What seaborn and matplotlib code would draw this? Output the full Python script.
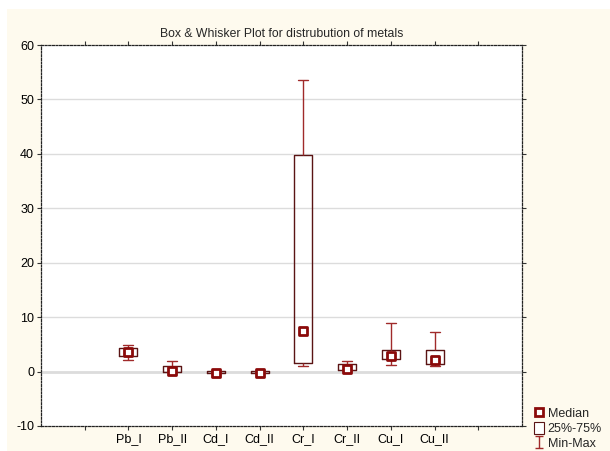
import numpy as np
import pandas as pd
import matplotlib
matplotlib.use("Agg")
import matplotlib.pyplot as plt
from matplotlib.lines import Line2D
from matplotlib.patches import Patch, Rectangle
from matplotlib.path import Path
import seaborn as sns

categories = ["Pb_I", "Pb_II", "Cd_I", "Cd_II", "Cr_I", "Cr_II", "Cu_I", "Cu_II"]
mins    = [2.15, 0.0,  -0.3,  -0.3,  0.98, 0.3,  1.23, 1.1]
q1s     = [2.82, 0.0,  -0.05, -0.05, 1.54, 0.37, 2.33, 1.41]
medians = [3.6,  0.18, -0.25, -0.25, 7.4,  0.55, 2.89, 2.08]
q3s     = [4.36, 1.04, 0.05,  0.05,  39.7, 1.41, 4.05, 4.05]
maxs    = [4.97, 1.97, 0.1,   0.1,   53.6, 1.9,  8.96, 7.24]
title = "Box & Whisker Plot for distrubution of metals"
yticks = [-10, 0, 10, 20, 30, 40, 50, 60]
legend_labels = ["Median", "25%-75%", "Min-Max"]

# Five-number summaries -> long table (percentiles of 5 points reproduce them exactly)
rows = []
for c, a, b, m, d, e in zip(categories, mins, q1s, medians, q3s, maxs):
    for v in (a, b, m, d, e):
        rows.append({"metal": c, "value": v})
df = pd.DataFrame(rows)
med_df = pd.DataFrame({"metal": categories, "median": medians})

sns.set_theme(style="white")
plt.rcParams["font.family"] = ["Liberation Sans", "DejaVu Sans"]

box_col = "#5a1414"
whisk_col = "#a02a2a"
med_col = "#8b0a0a"

fig = plt.figure(figsize=(6.1, 4.51), dpi=100, facecolor="white")
fig.patches.append(Rectangle((7 / 610, 0), 1, 1 - 9 / 451, transform=fig.transFigure,
                             facecolor="#fefaee", edgecolor="none", zorder=-10))
ax = fig.add_axes([41 / 610, 1 - 426 / 451, (522 - 41) / 610, (426 - 45) / 451])
ax.set_facecolor("white")

sns.boxplot(data=df, x="metal", y="value", order=categories, whis=(0, 100),
            width=0.41, fill=False, linewidth=1.0, ax=ax,
            boxprops=dict(color=box_col), whiskerprops=dict(color=whisk_col),
            capprops=dict(color=whisk_col), medianprops=dict(visible=False),
            showfliers=False, capwidths=0.23, zorder=3)
sns.scatterplot(data=med_df, x="metal", y="median", marker="s", s=32,
                facecolor="white", edgecolor=med_col, linewidth=2.0, ax=ax, zorder=5)

ax.set_xlim(-2, 9)
ax.set_ylim(-10, 60)
ax.set_xticks(range(-1, 9))
ax.set_xticklabels([""] + categories + [""])
ax.set_yticks(yticks)
ax.set_yticklabels([str(t) for t in yticks])
ax.set_xlabel("")
ax.set_ylabel("")
for t in yticks[1:-1]:
    ax.axhline(t, color="#dcdcdc", lw=1.0 if t != 0 else 2.0, zorder=0)
ax.tick_params(axis="both", which="both", direction="out", length=3, width=0.8,
               colors="#333333", labelcolor="black", labelsize=9,
               top=True, right=True, bottom=True, left=True, pad=2)
for s in ax.spines.values():
    s.set_visible(True)
    s.set_color("#222222")
    s.set_linewidth(0.9)
    s.set_linestyle((0, (1.6, 1.3)))
ax.set_title(title, fontsize=8.8, pad=6)

ibeam = Path([(-0.6, 1), (0.6, 1), (0, 1), (0, -1), (-0.6, -1), (0.6, -1)],
             [Path.MOVETO, Path.LINETO, Path.MOVETO, Path.LINETO, Path.MOVETO, Path.LINETO])
handles = [
    Line2D([], [], marker="s", linestyle="none", markersize=5.5, markerfacecolor="white",
           markeredgecolor=med_col, markeredgewidth=2.0),
    Patch(facecolor="white", edgecolor=box_col, linewidth=0.8),
    Line2D([], [], marker=ibeam, linestyle="none", markersize=8.5, color=whisk_col,
           markeredgewidth=1.0),
]
fig.legend(handles, legend_labels, loc="lower left", bbox_to_anchor=(0.861, -0.018),
           frameon=False, fontsize=9, handlelength=0.8, handleheight=1.0,
           handletextpad=0.3, labelspacing=0.18, borderpad=0.2)

fig.savefig("out.png", dpi=100, facecolor=fig.get_facecolor())
